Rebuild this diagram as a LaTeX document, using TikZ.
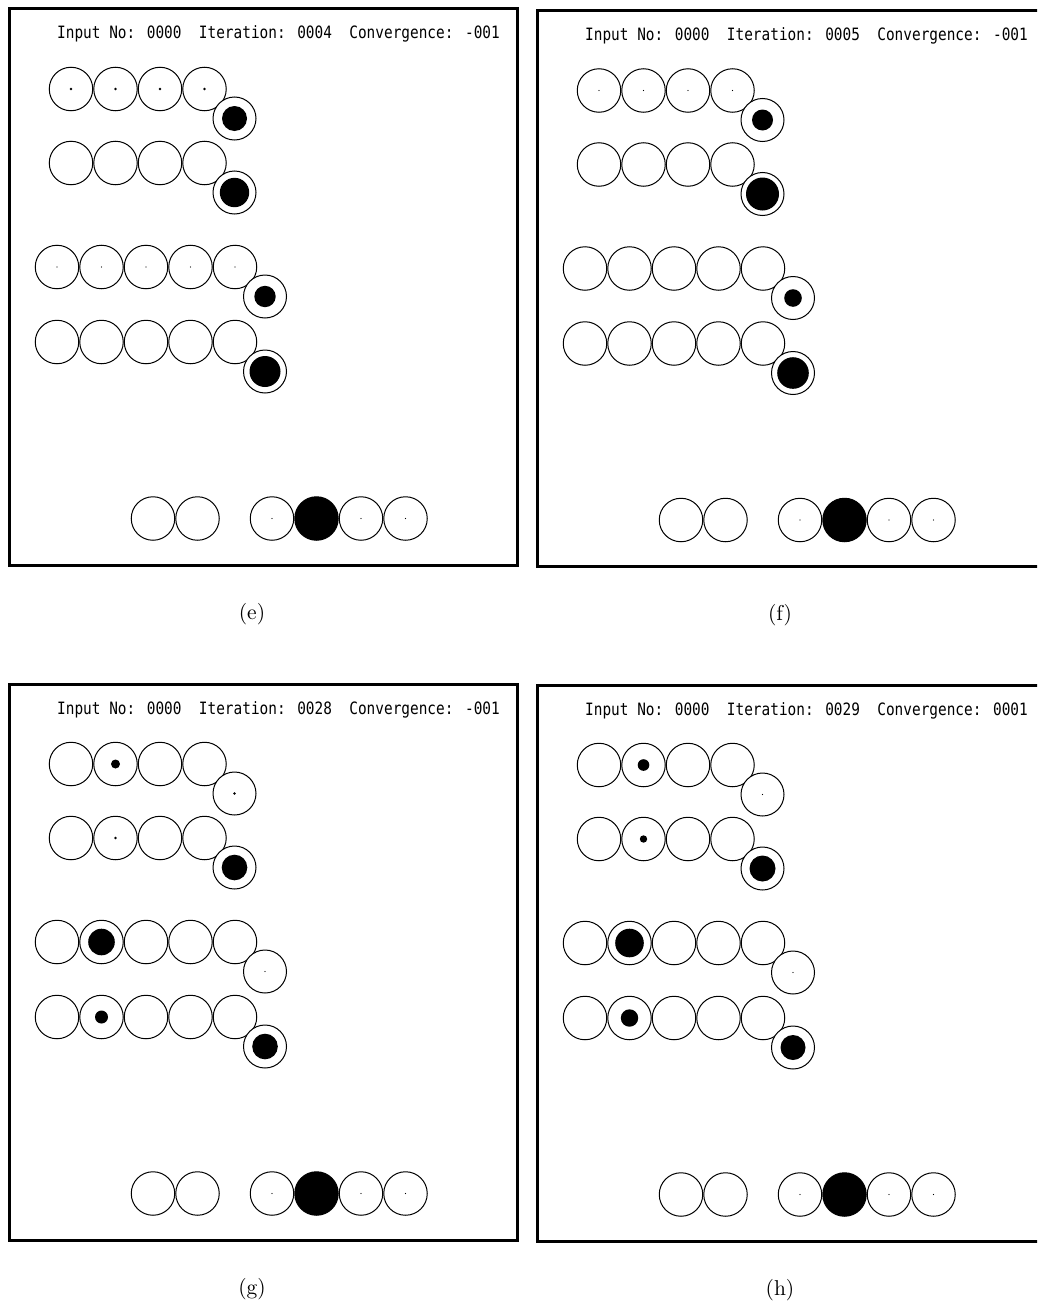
\documentclass[tikz,border=0pt]{standalone}
\usepackage{fontspec}
\newfontfamily\screenfont[FakeStretch=0.848]{DejaVu Sans Mono}
\newfontfamily\capfont{lmroman10-regular.otf}
\usetikzlibrary{positioning}

\tikzset{
    unit/.style={
        circle,
        draw,
        line width=1pt,
        minimum size=43.5pt,
        inner sep=0pt
    },
    outunit/.style={unit, fill=white, minimum size=43pt},
    frame/.style={line width=3pt},
    readout/.style={
        font=\fontsize{17}{20}\screenfont,
        anchor=base west,
        inner sep=0pt
    },
    caption/.style={
        font=\fontsize{21.5}{25}\capfont,
        anchor=base,
        inner sep=0pt
    }
}

% one row of units: name, first x, y, activities, output activity
\newcommand{\unitrow}[5]{%
    \foreach \a [count=\i] in {#4} {
        \node[unit] (#1-\i) at ({#2+44.5*(\i-1)}, #3) {};
        \coordinate (#1-last) at (#1-\i.center);
        \ifdim\a pt>0pt \fill (#1-\i.center) circle (\a pt); \fi
    }
    \node[outunit] (#1-out) at ([shift={(30,29.5)}]#1-last) {};
    \fill (#1-out.center) circle (#5pt);
}

% input units at the bottom
\newcommand{\inputrow}[1]{%
    \node[unit] (#1-in1) at (153,518.5) {};
    \node[unit, right=0pt of #1-in1] (#1-in2) {};
    \node[unit] (#1-in3) at (272,518.5) {};
    \node[unit, fill=black, right=0pt of #1-in3] (#1-in4) {};
    \node[unit, right=0pt of #1-in4] (#1-in5) {};
    \node[unit, right=0pt of #1-in5] (#1-in6) {};
    \foreach \k in {3,5,6} \fill (#1-in\k.center) circle (0.7pt);
}

% frame, status line and caption: label, iteration, convergence
\newcommand{\netframe}[3]{%
    \draw[frame] (9,9) rectangle (517,565);
    \node[readout] (#1-head) at (57,39)
        {Input No: 0000~~Iteration: #2~~Convergence: #3};
    \node[caption] (#1-cap) at (252,619) {(#1)};
}

\begin{document}
\begin{tikzpicture}[x=1pt, y=-1pt]
\useasboundingbox (0,0) rectangle (1037,1306);
\clip (0,0) rectangle (1037,1306);

% (e)
\begin{scope}
    \netframe{e}{0004}{-001}
    \unitrow{e1}{71}{89}{1.3,1.3,1.3,1.3}{12.5}
    \unitrow{e2}{71}{163}{0,0,0,0}{14.7}
    \unitrow{e3}{57}{267}{0.7,0.7,0.7,0.7,0.7}{10.7}
    \unitrow{e4}{57}{342}{0,0,0,0,0}{15.5}
    \inputrow{e}
\end{scope}

% (f)
\begin{scope}[shift={(528,1.5)}]
    \netframe{f}{0005}{-001}
    \unitrow{f1}{71}{89}{0.7,0.7,0.7,0.7}{10.5}
    \unitrow{f2}{71}{163}{0,0,0,0}{16.5}
    \unitrow{f3}{57}{267}{0,0,0,0,0}{8.8}
    \unitrow{f4}{57}{342}{0,0,0,0,0}{15.8}
    \inputrow{f}
\end{scope}

% (g)
\begin{scope}[shift={(0,675)}]
    \netframe{g}{0028}{-001}
    \unitrow{g1}{71}{89}{0,4.5,0,0}{1.3}
    \unitrow{g2}{71}{163}{0,1.3,0,0}{12.8}
    \unitrow{g3}{57}{267}{0,13.3,0,0,0}{0.7}
    \unitrow{g4}{57}{342}{0,6.5,0,0,0}{12.8}
    \inputrow{g}
\end{scope}

% (h)
\begin{scope}[shift={(528,676)}]
    \netframe{h}{0029}{0001}
    \unitrow{h1}{71}{89}{0,5.8,0,0}{0.7}
    \unitrow{h2}{71}{163}{0,3.7,0,0}{13}
    \unitrow{h3}{57}{267}{0,14.3,0,0,0}{0.7}
    \unitrow{h4}{57}{342}{0,8.7,0,0,0}{12.5}
    \inputrow{h}
\end{scope}

\end{tikzpicture}
\end{document}
